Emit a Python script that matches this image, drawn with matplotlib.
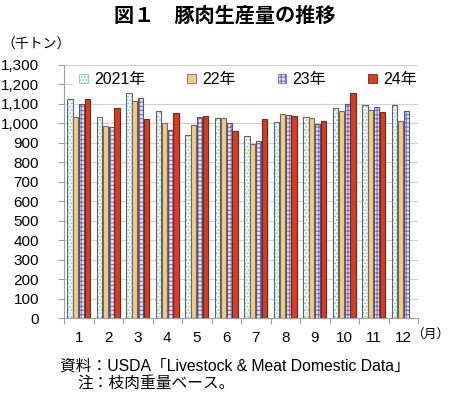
import matplotlib
matplotlib.use("Agg")
import matplotlib.pyplot as plt
import numpy as np
from matplotlib.patches import Patch

plt.rcParams['font.family'] = ['Liberation Sans', 'Noto Sans CJK JP', 'DejaVu Sans']
plt.rcParams['hatch.linewidth'] = 0.8

months = ['1', '2', '3', '4', '5', '6', '7', '8', '9', '10', '11', '12']
series_names = ['2021年', '22年', '23年', '24年']
y2021 = [1124, 1031, 1157, 1066, 941, 1026, 933, 1005, 1031, 1079, 1095, 1093]
y2022 = [1035, 984, 1117, 1000, 990, 1026, 893, 1047, 1028, 1062, 1067, 1014]
y2023 = [1102, 979, 1131, 964, 1033, 1000, 910, 1043, 995, 1100, 1086, 1066]
y2024 = [1124, 1079, 1024, 1053, 1036, 962, 1024, 1040, 1014, 1157, 1060, None]
yticks = list(range(0, 1301, 100))

styles = [
    dict(face='#F4FBFB', hatch='.....', hcol='#7FC4C4', edge='#5A6466'),
    dict(face='#F7C97E', hatch=None, hcol=None, edge='#6E6A60'),
    dict(face='#E8E8F8', hatch='++++', hcol='#7070C8', edge='#55556A'),
    dict(face='#E2391B', hatch=None, hcol=None, edge='#6A2A20'),
]

fig = plt.figure(figsize=(4.5, 3.93), dpi=100)
ax = fig.add_axes([64/450, (393-318)/393, (418-64)/450, (318-65)/393])

x = np.arange(len(months))
bw = 0.18
step = 0.2
data = [y2021, y2022, y2023, y2024]
for i, (vals, st) in enumerate(zip(data, styles)):
    xs = [xi + (i - 1.5) * step for xi, v in zip(x, vals) if v is not None]
    vs = [v for v in vals if v is not None]
    if st['hatch']:
        ax.bar(xs, vs, bw, color=st['face'], edgecolor=st['hcol'], hatch=st['hatch'], linewidth=0, zorder=2)
        ax.bar(xs, vs, bw, fill=False, edgecolor=st['edge'], linewidth=0.8, zorder=3)
    else:
        ax.bar(xs, vs, bw, color=st['face'], edgecolor=st['edge'], linewidth=0.8, zorder=3)

ax.set_xlim(-0.5, 11.5)
ax.set_ylim(0, 1300)
ax.set_yticks(yticks)
ax.set_yticklabels([f'{t:,}' for t in yticks], fontsize=11)
ax.set_xticks(x)
ax.set_xticklabels(months, fontsize=11)
ax.set_xticks(np.arange(-0.5, 12, 1), minor=True)
ax.tick_params(axis='x', which='major', length=0, pad=9)
ax.tick_params(axis='x', which='minor', length=4, color='#A0A0A0', width=0.8)
ax.tick_params(axis='y', length=4, color='#A0A0A0', width=0.8, pad=14)
ax.grid(axis='y', color='#D0D0D0', linewidth=0.8, zorder=0)
ax.set_axisbelow(True)
for s in ['top', 'right']:
    ax.spines[s].set_visible(False)
for s in ['left', 'bottom']:
    ax.spines[s].set_color('#A0A0A0')
    ax.spines[s].set_linewidth(0.8)

handles = []
for st, name in zip(styles, series_names):
    if st['hatch']:
        handles.append(Patch(facecolor=st['face'], edgecolor=st['hcol'], hatch=st['hatch'], linewidth=0.6, label=name))
    else:
        handles.append(Patch(facecolor=st['face'], edgecolor=st['edge'], linewidth=0.6, label=name))
leg = ax.legend(handles=handles, loc='upper center', bbox_to_anchor=(0.52, 1.01), ncol=4,
                frameon=True, fontsize=11.5, handlelength=0.55, handleheight=0.55,
                handletextpad=0.4, columnspacing=2.6, borderaxespad=0.2)
leg.get_frame().set_facecolor('white')
leg.get_frame().set_edgecolor('none')
leg.get_frame().set_alpha(1)

fig.text(0.5, 1 - 15/393, '図１　豚肉生産量の推移', ha='center', va='center',
         fontsize=14.5, fontweight='bold', family=['Noto Sans CJK JP'])
fig.text(1/450, 1 - 45/393, '（千トン）', ha='left', va='center', fontsize=10, family=['Noto Sans CJK JP'])
fig.text(411/450, 1 - 335/393, '（月）', ha='left', va='center', fontsize=9.2, family=['Noto Sans CJK JP'])
fig.text(60/450, 1 - 366/393, '資料：USDA「Livestock & Meat Domestic Data」', ha='left', va='center', fontsize=11.3)
fig.text(77/450, 1 - 383/393, '注：枝肉重量ベース。', ha='left', va='center', fontsize=11.3)

fig.savefig('out.png', dpi=100)
